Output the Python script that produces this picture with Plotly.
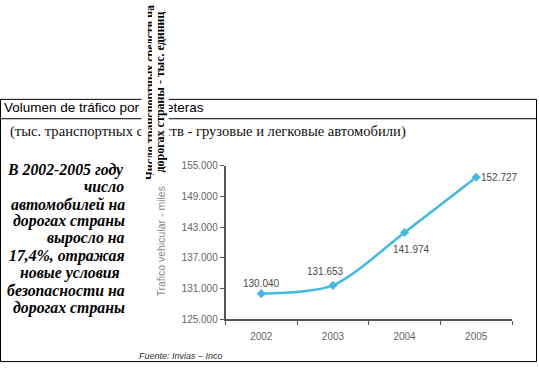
import plotly.graph_objects as go

W, H = 539, 370

years = ["2002", "2003", "2004", "2005"]
values = [130040, 131653, 141974, 152727]
label_texts = ["130.040", "131.653", "141.974", "152.727"]
y_ticks = [125000, 131000, 137000, 143000, 149000, 155000]

title_text = "Volumen de tráfico por carreteras"
subtitle_text = "(тыс. транспортных средств - грузовые и легковые автомобили)"
vertical_lines = ["Число транспортных средств на", "дорогах страны - тыс. единиц"]
side_lines = ["В 2002-2005 году", "число", "автомобилей на", "дорогах страны",
              "выросло на", "17,4%, отражая", "новые условия", "безопасности на",
              "дорогах страны"]
y_title = "Trafico vehicular - miles"
source_text = "Fuente: Invias – Inco"


def px(x):
    return x / W


def py(y):
    return (H - y) / H


fig = go.Figure()
fig.add_trace(go.Scatter(
    x=years, y=values, mode="lines+markers",
    line=dict(color="#40b9e7", width=2.5, shape="spline", smoothing=0.8),
    marker=dict(symbol="diamond", size=7, color="#40b9e7"),
    hoverinfo="skip", showlegend=False,
))

ann = []
# data labels (x given as category index)
offsets = [(0, 10, "center"), (-7, 14, "center"), (7, -17, "center"), (3, 0, "left")]
for i, (v, t, (dx, dy, xa)) in enumerate(zip(values, label_texts, offsets)):
    ann.append(dict(x=i, y=v, xref="x", yref="y", text=t, showarrow=False,
                    xshift=dx, yshift=dy, xanchor=xa, yanchor="middle",
                    font=dict(family="Liberation Sans, Arial", size=10, color="#4a4a4a")))

# title and subtitle
ann.append(dict(x=px(1.5), y=py(105), xref="paper", yref="paper", text=title_text,
                showarrow=False, xanchor="left", yanchor="middle",
                font=dict(family="Liberation Sans, Arial", size=13.5, color="#000")))
ann.append(dict(x=px(8), y=py(129.5), xref="paper", yref="paper", text=subtitle_text,
                showarrow=False, xanchor="left", yanchor="middle",
                font=dict(family="Liberation Serif, Times New Roman", size=14.6, color="#111")))

# side text
side_y = [169, 187, 205, 222, 240, 258, 276, 294, 312]
side_right = [126, 126, 127, 127, 127, 127, 122, 127, 127]
for t, yy, xr in zip(side_lines, side_y, side_right):
    ann.append(dict(x=px(xr), y=py(yy), xref="paper", yref="paper", text="<b><i>" + t + "</i></b>",
                    showarrow=False, xanchor="right", yanchor="middle",
                    font=dict(family="Liberation Serif, Times New Roman", size=15.8, color="#000")))

# y axis title
ann.append(dict(x=px(161.5), y=py(244), xref="paper", yref="paper", text=y_title,
                showarrow=False, textangle=-90, xanchor="center", yanchor="middle",
                font=dict(family="Liberation Sans, Arial", size=10.5, color="#8a8a8a")))

# source
ann.append(dict(x=px(137), y=py(362), xref="paper", yref="paper", text="<i>" + source_text + "</i>",
                showarrow=False, xanchor="left", yanchor="middle",
                font=dict(family="Liberation Sans, Arial", size=9, color="#333")))

# vertical overlay text (covers the title)
for t, xc, yc in zip(vertical_lines, [150, 160.5], [90, 89]):
    ann.append(dict(x=px(xc), y=py(yc), xref="paper", yref="paper", text="<b>" + t + "</b>",
                    showarrow=False, textangle=-90, xanchor="center", yanchor="middle",
                    bgcolor="white", borderpad=1,
                    font=dict(family="Liberation Serif, Times New Roman", size=12, color="#000")))

shapes = [
    dict(type="rect", xref="paper", yref="paper", x0=px(0.5), x1=px(536.5),
         y0=py(367.5), y1=py(96.5), line=dict(color="#000", width=1), layer="below"),
    dict(type="line", xref="paper", yref="paper", x0=px(0.5), x1=px(536.5),
         y0=py(116.5), y1=py(116.5), line=dict(color="#000", width=1), layer="below"),
]

fig.update_layout(
    width=W, height=H, margin=dict(l=0, r=0, t=0, b=0),
    paper_bgcolor="white", plot_bgcolor="white",
    separators=",.",
    annotations=ann, shapes=shapes,
    xaxis=dict(domain=[px(225.5), px(512)], type="category", range=[-0.5, 3.5],
               showline=True, linecolor="#555", linewidth=1.5, ticks="outside",
               tickson="boundaries", ticklen=4, tickcolor="#555", showgrid=False,
               zeroline=False, ticklabelstandoff=7,
               tickfont=dict(family="Liberation Sans, Arial", size=10, color="#666")),
    yaxis=dict(domain=[py(324), py(165)], range=[125000, 155000], tickvals=y_ticks,
               tickformat=",.0f", showline=True, linecolor="#555", linewidth=1.5,
               ticks="outside", ticklen=4, tickcolor="#555", showgrid=False, zeroline=False,
               tickfont=dict(family="Liberation Sans, Arial", size=10, color="#666")),
)

fig.write_html("out.html", config={"displayModeBar": False},
               post_script="document.body.style.margin='0';")
